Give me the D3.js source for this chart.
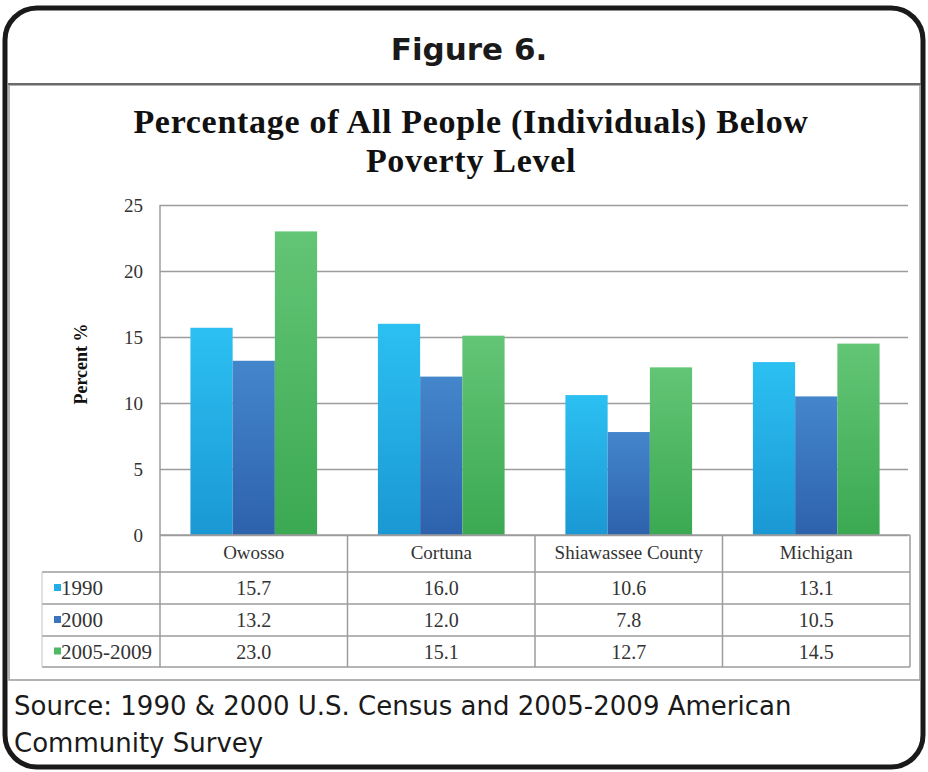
<!DOCTYPE html>
<html>
<head>
<meta charset="utf-8">
<script src="https://cdn.jsdelivr.net/npm/d3@7"></script>
<style>
  body { margin: 0; background: #fff; }
  svg { display: block; }
</style>
</head>
<body>
<svg id="fig" width="928" height="772"></svg>
<script>
// data
const places = ["Owosso", "Cortuna", "Shiawassee County", "Michigan"];
const years = ["1990", "2000", "2005-2009"];
const v1990 = [15.7, 16.0, 10.6, 13.1];
const v2000 = [13.2, 12.0, 7.8, 10.5];
const v2005 = [23.0, 15.1, 12.7, 14.5];
const yTicks = [0, 5, 10, 15, 20, 25];

const series = [v1990, v2000, v2005];
const colors = [["#2cc0f2", "#1a98d4"], ["#4486cb", "#2d62ac"], ["#63c576", "#3ba952"]];
const legendCol = ["#22ade6", "#3a74bd", "#4fb862"];

const svg = d3.select("#fig");

const defs = svg.append("defs");
colors.forEach((c, i) => {
    const g = defs.append("linearGradient").attr("id", "grad" + i)
        .attr("x1", 0).attr("y1", 0).attr("x2", 0).attr("y2", 1);
    g.append("stop").attr("offset", "0%").attr("stop-color", c[0]);
    g.append("stop").attr("offset", "100%").attr("stop-color", c[1]);
});

// frame + header
svg.append("rect").attr("x", 5).attr("y", 8).attr("width", 918).attr("height", 759)
    .attr("rx", 32).attr("fill", "#fff").attr("stroke", "#1a1a1a").attr("stroke-width", 5);
svg.append("text").attr("x", 469).attr("y", 60).attr("text-anchor", "middle")
    .attr("font-family", "DejaVu Sans").attr("font-weight", "bold").attr("font-size", 31)
    .attr("fill", "#1a1a1a").text("Figure 6.");

// chart picture box
svg.append("rect").attr("x", 9).attr("y", 85).attr("width", 911).attr("height", 595)
    .attr("fill", "#fff").attr("stroke", "#9a9a9a").attr("stroke-width", 1.5);
svg.append("line").attr("x1", 8).attr("x2", 921).attr("y1", 84).attr("y2", 84)
    .attr("stroke", "#6a6a6a").attr("stroke-width", 2);

const title = svg.append("text").attr("text-anchor", "middle")
    .attr("font-family", "Liberation Serif").attr("font-weight", "bold").attr("font-size", 34)
    .attr("letter-spacing", 0.7).attr("fill", "#111");
title.append("tspan").attr("x", 471).attr("y", 133).text("Percentage of All People (Individuals) Below");
title.append("tspan").attr("x", 471).attr("y", 172).text("Poverty Level");

// scales
const pLeft = 160, pRight = 910, pTop = 205, pBottom = 535;
const x0 = d3.scaleBand().domain(places).range([pLeft, pRight]).paddingInner(0).paddingOuter(0);
const x1 = d3.scaleBand().domain(years).range([0, x0.bandwidth()]).paddingInner(0).paddingOuter(0.72);
const y = d3.scaleLinear().domain([0, 25]).range([pBottom, pTop]);

// grid
const yAxis = d3.axisLeft(y).tickValues(yTicks).tickSize(-(pRight - pLeft - 2)).tickPadding(17);
const ga = svg.append("g").attr("transform", `translate(${pLeft},0)`).call(yAxis);
ga.select(".domain").remove();
ga.selectAll(".tick line").attr("stroke", "#9c9c9c").attr("stroke-width", 1.5);
ga.selectAll(".tick text").attr("font-family", "Liberation Serif").attr("font-size", 19)
    .attr("fill", "#333");

svg.append("text").attr("transform", "translate(87,364) rotate(-90)").attr("text-anchor", "middle")
    .attr("font-family", "Liberation Serif").attr("font-weight", "bold").attr("font-size", 18)
    .attr("fill", "#111").text("Percent %");

// bars
series.forEach((vals, i) => {
    svg.append("g").selectAll("rect").data(vals).join("rect")
        .attr("x", (d, j) => x0(places[j]) + x1(years[i]))
        .attr("y", d => y(d))
        .attr("width", x1.bandwidth())
        .attr("height", d => y(0) - y(d))
        .attr("fill", `url(#grad${i})`);
});

// data table
const rowY = [pBottom, 572, 604, 636, 667];
const tbl = svg.append("g");
rowY.forEach((ry, i) => {
    tbl.append("line").attr("x1", i === 0 ? pLeft : 42).attr("x2", pRight)
        .attr("y1", ry).attr("y2", ry).attr("stroke", "#9c9c9c").attr("stroke-width", 1.5);
});
tbl.append("line").attr("x1", pLeft).attr("x2", pLeft).attr("y1", pTop).attr("y2", 667)
    .attr("stroke", "#9c9c9c").attr("stroke-width", 1.5);
places.forEach(p => {
    tbl.append("line").attr("x1", x0(p) + x0.bandwidth()).attr("x2", x0(p) + x0.bandwidth())
        .attr("y1", pBottom).attr("y2", 667).attr("stroke", "#9c9c9c").attr("stroke-width", 1.5);
    tbl.append("text").attr("x", x0(p) + x0.bandwidth() / 2).attr("y", 559)
        .attr("text-anchor", "middle").attr("font-family", "Liberation Serif").attr("font-size", 19)
        .attr("fill", "#333").text(p);
});
tbl.append("line").attr("x1", 42).attr("x2", 42).attr("y1", 572).attr("y2", 667)
    .attr("stroke", "#c4c4c4").attr("stroke-width", 1);
series.forEach((vals, i) => {
    const cy = (rowY[i + 1] + rowY[i + 2]) / 2 + 7;
    tbl.append("rect").attr("x", 54).attr("y", cy - 11).attr("width", 7).attr("height", 7)
        .attr("fill", legendCol[i]);
    tbl.append("text").attr("x", 61).attr("y", cy).attr("font-family", "Liberation Serif")
        .attr("font-size", 21).attr("fill", "#333").text(years[i]);
    vals.forEach((v, j) => {
        tbl.append("text").attr("x", x0(places[j]) + x0.bandwidth() / 2).attr("y", cy)
            .attr("text-anchor", "middle").attr("font-family", "Liberation Serif").attr("font-size", 20)
            .attr("fill", "#333").text(v.toFixed(1));
    });
});

// source note
const src = svg.append("text").attr("font-family", "DejaVu Sans").attr("font-size", 26)
    .attr("fill", "#1a1a1a");
src.append("tspan").attr("x", 14).attr("y", 715).text("Source: 1990 & 2000 U.S. Census and 2005-2009 American");
src.append("tspan").attr("x", 14).attr("y", 752).text("Community Survey");
</script>
</body>
</html>
